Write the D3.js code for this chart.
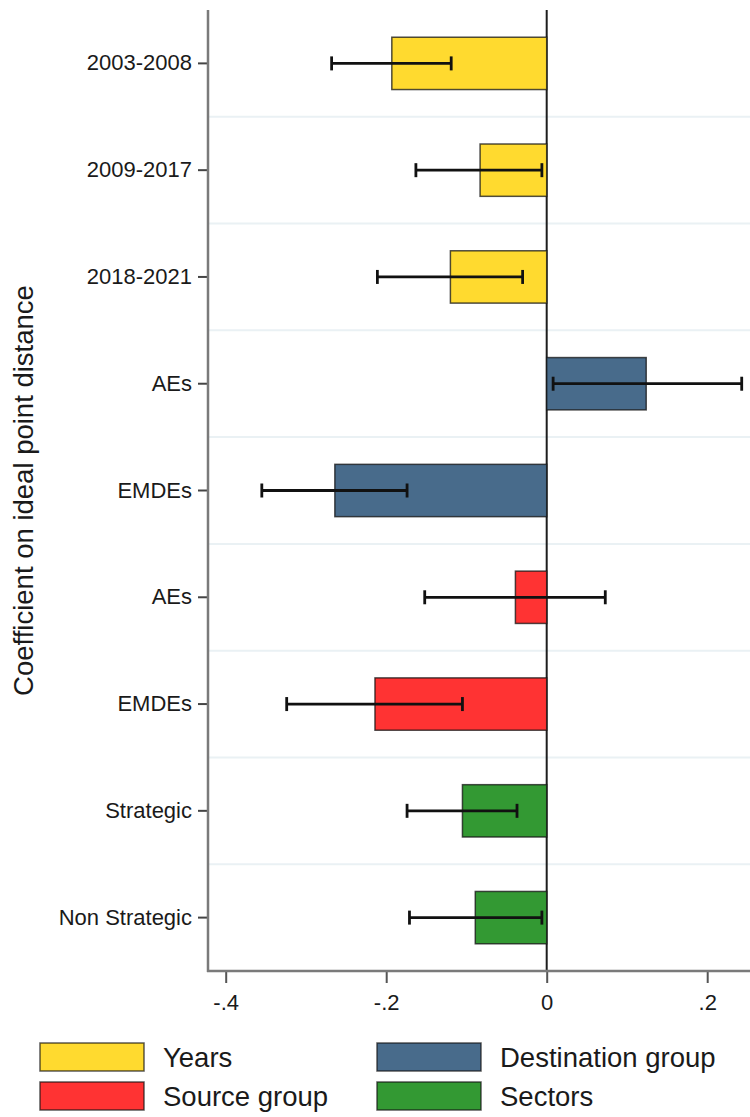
<!DOCTYPE html>
<html>
<head>
<meta charset="utf-8">
<script src="https://cdn.jsdelivr.net/npm/d3@7"></script>
<style>
	body { margin: 0; background: #fff; }
	svg { display: block; font-family: "Liberation Sans", Arial, sans-serif; }
</style>
</head>
<body>
<svg width="750" height="1117"></svg>
<script>
// coefficient estimates with confidence bands, one row per category
var categories = ["2003-2008", "2009-2017", "2018-2021", "AEs", "EMDEs", "AEs", "EMDEs", "Strategic", "Non Strategic"]
var groups = ["Years", "Years", "Years", "Destination group", "Destination group", "Source group", "Source group", "Sectors", "Sectors"]
var coef = [-0.193, -0.083, -0.120, 0.124, -0.264, -0.039, -0.214, -0.105, -0.089]
var lower = [-0.268, -0.163, -0.211, 0.008, -0.355, -0.152, -0.324, -0.174, -0.171]
var upper = [-0.119, -0.006, -0.030, 0.243, -0.174, 0.073, -0.105, -0.037, -0.006]
var xTicks = [-0.4, -0.2, 0, 0.2]
var xTickLabels = ["-.4", "-.2", "0", ".2"]

var legendOrder = ["Years", "Destination group", "Source group", "Sectors"]
var groupColors = ["#ffda2f", "#486b8b", "#ff3333", "#339933"]

var svg = d3.select("svg"),
	width = +svg.attr("width"),
	height = +svg.attr("height")

var plotLeft = 208,
	plotTop = 10,
	plotBottom = 971

var rows = categories.map(function (c, i) {
	return { i: i, label: c, group: groups[i], coef: coef[i], lo: lower[i], hi: upper[i] }
})

var x = d3.scaleLinear().domain([-0.4, 0.2]).range([225.7, 707.2])
var y = d3
	.scaleBand()
	.domain(rows.map(function (d) { return d.i }))
	.range([plotTop, plotBottom])
	.paddingInner(0)
var color = d3.scaleOrdinal().domain(legendOrder).range(groupColors)

var barH = y.bandwidth() * 0.49

// light gridlines between categories
svg
	.append("g")
	.attr("name", "grid")
	.selectAll("line")
	.data(d3.range(1, categories.length))
	.enter()
	.append("line")
	.attr("x1", plotLeft)
	.attr("x2", width)
	.attr("y1", function (k) { return plotTop + k * y.bandwidth() })
	.attr("y2", function (k) { return plotTop + k * y.bandwidth() })
	.attr("stroke", "#eaf1f4")
	.attr("stroke-width", 2)

// zero line
svg
	.append("line")
	.attr("x1", x(0))
	.attr("x2", x(0))
	.attr("y1", plotTop)
	.attr("y2", plotBottom)
	.attr("stroke", "#1e1e1e")
	.attr("stroke-width", 2)

var bars = svg.append("g").attr("name", "bars")
bars
	.selectAll("rect")
	.data(rows)
	.enter()
	.append("rect")
	.attr("x", function (d) { return x(Math.min(0, d.coef)) })
	.attr("width", function (d) { return Math.abs(x(d.coef) - x(0)) })
	.attr("y", function (d) { return y(d.i) + (y.bandwidth() - barH) / 2 })
	.attr("height", barH)
	.attr("fill", function (d) { return color(d.group) })
	.attr("stroke", "rgba(20,20,20,0.75)")
	.attr("stroke-width", 1.5)

// confidence intervals
var ci = svg.append("g").attr("name", "ci").attr("stroke", "#111").attr("stroke-width", 2.8)
rows.forEach(function (d) {
	var cy = y(d.i) + y.bandwidth() / 2
	ci.append("line").attr("x1", x(d.lo)).attr("x2", x(d.hi)).attr("y1", cy).attr("y2", cy)
	ci.append("line").attr("x1", x(d.lo)).attr("x2", x(d.lo)).attr("y1", cy - 7).attr("y2", cy + 7)
	ci.append("line").attr("x1", x(d.hi)).attr("x2", x(d.hi)).attr("y1", cy - 7).attr("y2", cy + 7)
})

// y axis
var yAxis = svg
	.append("g")
	.attr("transform", "translate(" + plotLeft + ",0)")
	.call(
		d3
			.axisLeft(y)
			.tickSize(10)
			.tickPadding(6)
			.tickFormat(function (i) { return categories[i] })
	)
yAxis.select(".domain").remove()
yAxis.selectAll(".tick line").attr("stroke", "#444").attr("stroke-width", 2)
yAxis.selectAll(".tick text").attr("font-size", 22).attr("fill", "#1a1a1a").attr("font-family", "Liberation Sans, Arial, sans-serif")
svg
	.append("line")
	.attr("x1", plotLeft)
	.attr("x2", plotLeft)
	.attr("y1", plotTop)
	.attr("y2", plotBottom + 1)
	.attr("stroke", "#7a7a7a")
	.attr("stroke-width", 2.5)

// x axis
var xAxis = svg
	.append("g")
	.attr("transform", "translate(0," + plotBottom + ")")
	.call(
		d3
			.axisBottom(x)
			.tickValues(xTicks)
			.tickSize(12)
			.tickPadding(11)
			.tickFormat(function (v, i) { return xTickLabels[i] })
	)
xAxis.select(".domain").remove()
xAxis.selectAll(".tick line").attr("stroke", "#555").attr("stroke-width", 2)
xAxis.selectAll(".tick text").attr("font-size", 22).attr("fill", "#1a1a1a").attr("font-family", "Liberation Sans, Arial, sans-serif")
svg
	.append("line")
	.attr("x1", plotLeft - 1)
	.attr("x2", width)
	.attr("y1", plotBottom)
	.attr("y2", plotBottom)
	.attr("stroke", "#7a7a7a")
	.attr("stroke-width", 2.5)

// y title
svg
	.append("text")
	.attr("transform", "translate(33," + (plotTop + plotBottom) / 2 + ") rotate(-90)")
	.attr("text-anchor", "middle")
	.attr("font-size", 27.5)
	.attr("fill", "#1a1a1a")
	.text("Coefficient on ideal point distance")

// legend, two columns
var legendX = [40, 377],
	legendY = [1043, 1082]
var legend = svg
	.append("g")
	.selectAll("g")
	.data(legendOrder)
	.enter()
	.append("g")
	.attr("transform", function (d, i) {
		return "translate(" + legendX[i % 2] + "," + legendY[Math.floor(i / 2)] + ")"
	})
legend
	.append("rect")
	.attr("width", 104)
	.attr("height", 28)
	.attr("fill", function (d) { return color(d) })
	.attr("stroke", "rgba(20,20,20,0.7)")
	.attr("stroke-width", 1.5)
legend
	.append("text")
	.attr("x", 123)
	.attr("y", 24)
	.attr("font-size", 27.5)
	.attr("fill", "#1a1a1a")
	.text(function (d) { return d })
</script>
</body>
</html>
